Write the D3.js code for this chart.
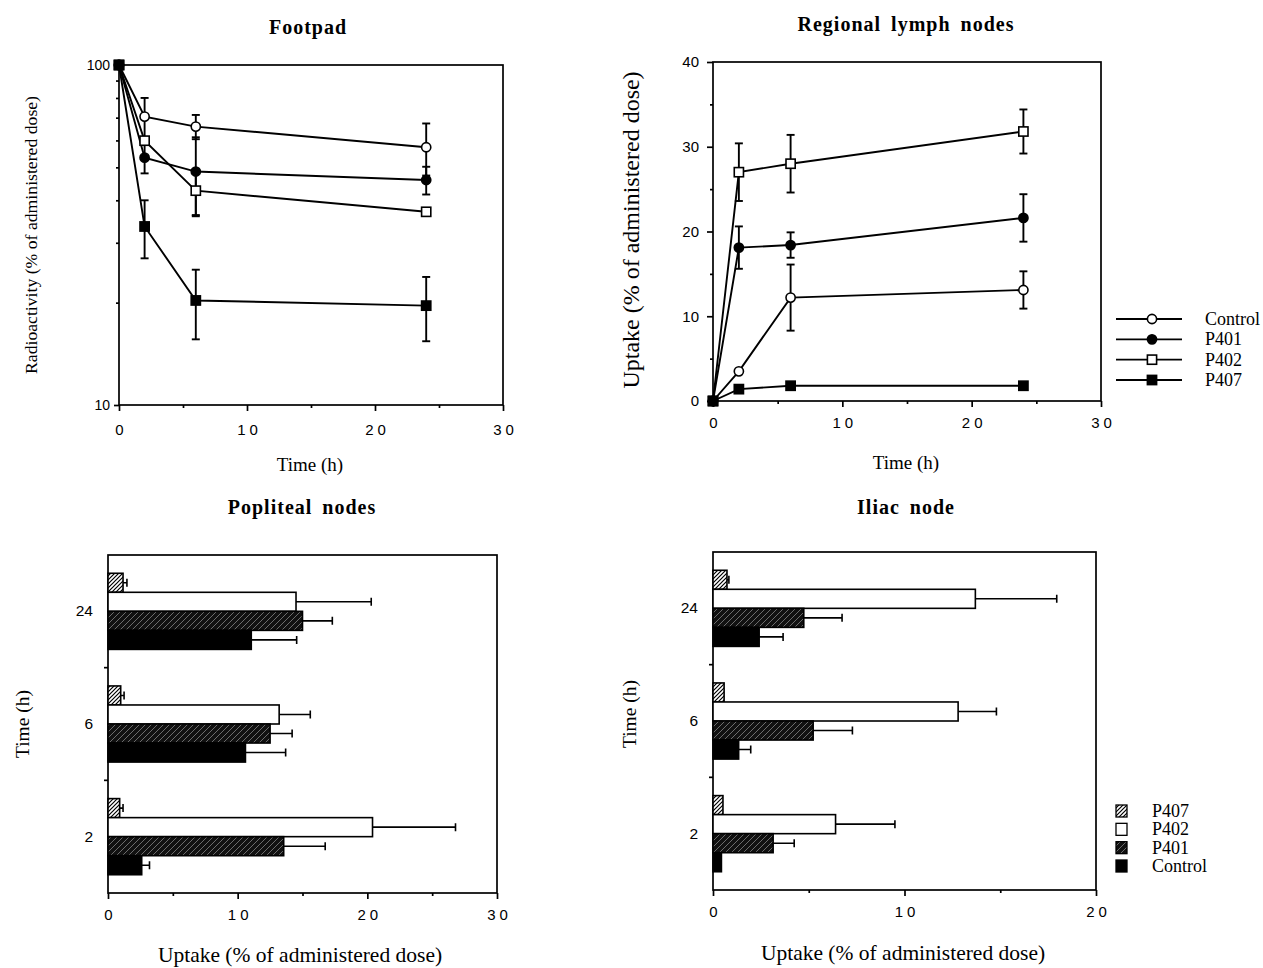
<!DOCTYPE html>
<html>
<head>
<meta charset="utf-8">
<script src="https://cdn.jsdelivr.net/npm/d3@7"></script>
<style>
	body { margin: 0; background: #fff; }
	.serif { font-family: "Liberation Serif", "Times New Roman", serif; }
	.tick text { font-family: "Liberation Sans", Arial, sans-serif; fill: #000; }
</style>
</head>
<body>
<div class="figure"></div>
<script>
	'use strict';

	// time points (h) of the line charts
	var times = [0, 2, 6, 24];
	var lineSeries = ['Control', 'P401', 'P402', 'P407'];

	// Footpad: radioactivity remaining (% of administered dose), log scale
	var footControl = [100, 70.5, 65.9, 57.3];
	var footControlErr = [0, 9.5, 5.4, 10.0];
	var footP401 = [100, 53.4, 48.6, 45.9];
	var footP401Err = [0, 5.4, 12.7, 4.3];
	var footP402 = [100, 59.9, 42.7, 37.0];
	var footP402Err = [0, 0, 6.5, 0];
	var footP407 = [100, 33.5, 20.3, 19.6];
	var footP407Err = [0, 6.5, 4.7, 4.2];

	// Regional lymph nodes: uptake (% of administered dose)
	var regControl = [0, 3.5, 12.2, 13.1];
	var regControlErr = [0, 0, 3.9, 2.2];
	var regP401 = [0, 18.1, 18.4, 21.6];
	var regP401Err = [0, 2.5, 1.5, 2.8];
	var regP402 = [0, 27.0, 28.0, 31.8];
	var regP402Err = [0, 3.4, 3.4, 2.6];
	var regP407 = [0, 1.4, 1.8, 1.8];
	var regP407Err = [0, 0, 0, 0];

	// bar charts: time groups (top to bottom) and series (top to bottom in a group)
	var barTimes = ['24', '6', '2'];
	var barSeries = ['P407', 'P402', 'P401', 'Control'];

	// Popliteal nodes
	var popP407 = [1.16, 0.98, 0.9];
	var popP407Err = [0.3, 0.26, 0.26];
	var popP402 = [14.5, 13.2, 20.4];
	var popP402Err = [5.8, 2.4, 6.4];
	var popP401 = [15.0, 12.5, 13.55];
	var popP401Err = [2.3, 1.7, 3.2];
	var popControl = [11.05, 10.6, 2.6];
	var popControlErr = [3.5, 3.1, 0.6];

	// Iliac node
	var ilP407 = [0.73, 0.58, 0.52];
	var ilP407Err = [0.1, 0, 0];
	var ilP402 = [13.7, 12.8, 6.4];
	var ilP402Err = [4.25, 2.0, 3.1];
	var ilP401 = [4.74, 5.23, 3.14];
	var ilP401Err = [2.0, 2.05, 1.1];
	var ilControl = [2.41, 1.34, 0.44];
	var ilControlErr = [1.25, 0.63, 0];

	var W = 1263, H = 968;
	var svg = d3.select('.figure').append('svg').attr('width', W).attr('height', H);

	var defs = svg.append('defs');
	var light = defs.append('pattern').attr('id', 'hatchLight').attr('patternUnits', 'userSpaceOnUse')
		.attr('width', 4).attr('height', 4);
	light.append('rect').attr('width', 4).attr('height', 4).attr('fill', '#fff');
	light.append('path').attr('d', 'M-1,1 l2,-2 M0,4 l4,-4 M3,5 l2,-2').attr('stroke', '#000').attr('stroke-width', 1.2);
	var dark = defs.append('pattern').attr('id', 'hatchDark').attr('patternUnits', 'userSpaceOnUse')
		.attr('width', 6).attr('height', 6);
	dark.append('rect').attr('width', 6).attr('height', 6).attr('fill', '#111');
	dark.append('path').attr('d', 'M0,6 l6,-6').attr('stroke', '#aaa').attr('stroke-width', 0.6);

	var barFill = { P407: 'url(#hatchLight)', P402: '#fff', P401: 'url(#hatchDark)', Control: '#000' };
	var markerFill = { Control: '#fff', P401: '#000', P402: '#fff', P407: '#000' };
	var markerShape = { Control: 'circle', P401: 'circle', P402: 'square', P407: 'square' };

	function title(x, y, s) {
		svg.append('text').attr('class', 'serif').attr('x', x).attr('y', y).attr('text-anchor', 'middle')
			.attr('font-size', 20).attr('font-weight', 'bold').attr('letter-spacing', 1)
			.attr('word-spacing', 4).text(s);
	}

	function label(x, y, s, size, rotate) {
		var t = svg.append('text').attr('class', 'serif').attr('text-anchor', 'middle').attr('font-size', size).text(s);
		if (rotate) {
			t.attr('transform', 'translate(' + x + ',' + y + ') rotate(-90)');
		} else {
			t.attr('x', x).attr('y', y);
		}
	}

	function frame(x, y) {
		svg.append('rect')
			.attr('x', x.range()[0]).attr('y', Math.min(y.range()[0], y.range()[1]))
			.attr('width', x.range()[1] - x.range()[0])
			.attr('height', Math.abs(y.range()[0] - y.range()[1]))
			.attr('fill', 'none').attr('stroke', '#000').attr('stroke-width', 1.7);
	}

	function styleAxis(g, size) {
		g.select('.domain').remove();
		g.selectAll('.tick line').attr('stroke', '#000').attr('stroke-width', 1.7);
		g.selectAll('.tick text').attr('font-size', size);
	}

	function xAxis(x, y0, major, minor, pad) {
		var g = svg.append('g').attr('transform', 'translate(0,' + y0 + ')')
			.call(d3.axisBottom(x).tickValues(major).tickSize(6).tickPadding(pad).tickFormat(d3.format('d')));
		styleAxis(g, 15);
		g.selectAll('.tick text').attr('letter-spacing', 4).attr('dx', 2);
		var m = svg.append('g').attr('transform', 'translate(0,' + y0 + ')')
			.call(d3.axisBottom(x).tickValues(minor).tickSize(3).tickFormat(''));
		styleAxis(m, 15);
	}

	function lineChart(x, y, series, major, minor, pad) {
		frame(x, y);
		var line = d3.line().x(function(d) { return x(d.t); }).y(function(d) { return y(d.v); });
		series.forEach(function(s) {
			var pts = times.map(function(t, i) { return { t: t, v: s.values[i], e: s.errors[i] }; });
			svg.append('path').datum(pts).attr('d', line)
				.attr('fill', 'none').attr('stroke', '#000').attr('stroke-width', 1.9);
			var bars = pts.filter(function(d) { return d.e > 0; });
			var eg = svg.append('g').attr('stroke', '#000').attr('stroke-width', 1.9);
			eg.selectAll('line.v').data(bars).enter().append('line')
				.attr('x1', function(d) { return x(d.t); }).attr('x2', function(d) { return x(d.t); })
				.attr('y1', function(d) { return y(d.v + d.e); }).attr('y2', function(d) { return y(d.v - d.e); });
			[1, -1].forEach(function(sign) {
				eg.selectAll('line.c' + sign).data(bars).enter().append('line')
					.attr('x1', function(d) { return x(d.t) - 4; }).attr('x2', function(d) { return x(d.t) + 4; })
					.attr('y1', function(d) { return y(d.v + sign * d.e); })
					.attr('y2', function(d) { return y(d.v + sign * d.e); });
			});
			drawMarkers(pts.map(function(d) { return [x(d.t), y(d.v)]; }), s.name);
		});
		xAxis(x, y.range()[0], major, minor, pad);
	}

	function drawMarkers(xy, name) {
		var g = svg.append('g').attr('fill', markerFill[name]).attr('stroke', '#000').attr('stroke-width', 1.6);
		if (markerShape[name] === 'circle') {
			g.selectAll('circle').data(xy).enter().append('circle')
				.attr('cx', function(d) { return d[0]; }).attr('cy', function(d) { return d[1]; }).attr('r', 4.6);
		} else {
			g.selectAll('rect').data(xy).enter().append('rect')
				.attr('x', function(d) { return d[0] - 4.6; }).attr('y', function(d) { return d[1] - 4.6; })
				.attr('width', 9.2).attr('height', 9.2);
		}
	}

	// ---- Footpad ----
	var fx = d3.scaleLinear().domain([0, 30]).range([119, 503]);
	var fy = d3.scaleLog().domain([10, 100]).range([405, 65]);
	title(308, 34, 'Footpad');
	lineChart(fx, fy, [
		{ name: 'Control', values: footControl, errors: footControlErr },
		{ name: 'P401', values: footP401, errors: footP401Err },
		{ name: 'P402', values: footP402, errors: footP402Err },
		{ name: 'P407', values: footP407, errors: footP407Err }
	], [0, 10, 20, 30], [5, 15, 25], 13);
	var fyg = svg.append('g').attr('transform', 'translate(119,0)')
		.call(d3.axisLeft(fy).tickValues([10, 100]).tickSize(5).tickPadding(4).tickFormat(d3.format('d')));
	styleAxis(fyg, 14);
	var fym = svg.append('g').attr('transform', 'translate(119,0)')
		.call(d3.axisLeft(fy).tickValues([20, 30, 40, 50, 60, 70, 80, 90]).tickSize(3).tickFormat(''));
	styleAxis(fym, 14);
	label(310, 471, 'Time (h)', 19);
	label(37, 235, 'Radioactivity (% of administered dose)', 17.7, true);

	// ---- Regional lymph nodes ----
	var rx = d3.scaleLinear().domain([0, 30]).range([713, 1101]);
	var ry = d3.scaleLinear().domain([0, 40]).range([401, 62]);
	title(906, 31, 'Regional lymph nodes');
	lineChart(rx, ry, [
		{ name: 'Control', values: regControl, errors: regControlErr },
		{ name: 'P401', values: regP401, errors: regP401Err },
		{ name: 'P402', values: regP402, errors: regP402Err },
		{ name: 'P407', values: regP407, errors: regP407Err }
	], [0, 10, 20, 30], [5, 15, 25], 10);
	var ryg = svg.append('g').attr('transform', 'translate(713,0)')
		.call(d3.axisLeft(ry).tickValues([0, 10, 20, 30, 40]).tickSize(6).tickPadding(8));
	styleAxis(ryg, 15);
	var rym = svg.append('g').attr('transform', 'translate(713,0)')
		.call(d3.axisLeft(ry).tickValues([5, 15, 25, 35]).tickSize(3).tickFormat(''));
	styleAxis(rym, 15);
	label(906, 469, 'Time (h)', 19);
	label(639, 230, 'Uptake (% of administered dose)', 24, true);

	// line legend
	var ly = d3.scalePoint().domain(lineSeries).range([319, 380]);
	lineSeries.forEach(function(s) {
		svg.append('line').attr('x1', 1116).attr('x2', 1182).attr('y1', ly(s)).attr('y2', ly(s))
			.attr('stroke', '#000').attr('stroke-width', 1.9);
		drawMarkers([[1152, ly(s)]], s);
		svg.append('text').attr('class', 'serif').attr('x', 1205).attr('y', ly(s) + 6)
			.attr('font-size', 18).text(s);
	});

	// ---- bar charts ----
	function barChart(x, yRange, data, major, minor) {
		var y0 = d3.scaleBand().domain(barTimes).range(yRange);
		var y1 = d3.scaleBand().domain(barSeries).range([0, y0.bandwidth()]).paddingOuter(0.96);
		frame(x, d3.scaleLinear().range(yRange));
		barSeries.forEach(function(s) {
			var rows = barTimes.map(function(t, i) { return { t: t, v: data[s].values[i], e: data[s].errors[i] }; });
			var g = svg.append('g');
			g.selectAll('line.e').data(rows.filter(function(d) { return d.e > 0; })).enter().append('path')
				.attr('d', function(d) {
					var cy = y0(d.t) + y1(s) + y1.bandwidth() / 2;
					return 'M' + x(d.v) + ',' + cy + 'H' + x(d.v + d.e) + 'M' + x(d.v + d.e) + ',' + (cy - 4) + 'V' + (cy + 4);
				})
				.attr('stroke', '#000').attr('stroke-width', 1.6).attr('fill', 'none');
			g.selectAll('rect').data(rows).enter().append('rect')
				.attr('x', x(0)).attr('y', function(d) { return y0(d.t) + y1(s); })
				.attr('width', function(d) { return x(d.v) - x(0); })
				.attr('height', y1.bandwidth())
				.attr('fill', barFill[s]).attr('stroke', '#000').attr('stroke-width', 1.6);
		});
		xAxis(x, yRange[1], major, minor, 10);
		// group separator ticks on the y axis
		var sep = svg.append('g').attr('stroke', '#000').attr('stroke-width', 1.7);
		sep.selectAll('line').data(barTimes.slice(1)).enter().append('line')
			.attr('x1', x(0) - 4).attr('x2', x(0))
			.attr('y1', function(d) { return y0(d); }).attr('y2', function(d) { return y0(d); });
		svg.append('g').selectAll('text').data(barTimes).enter().append('text')
			.attr('x', x(0) - 15).attr('y', function(d) { return y0(d) + y0.bandwidth() / 2 + 5; })
			.attr('text-anchor', 'end').attr('font-size', 15.5)
			.attr('font-family', '"Liberation Sans", Arial, sans-serif').text(function(d) { return d; });
	}

	var px = d3.scaleLinear().domain([0, 30]).range([108, 497]);
	title(302, 514, 'Popliteal nodes');
	barChart(px, [555, 893], {
		P407: { values: popP407, errors: popP407Err },
		P402: { values: popP402, errors: popP402Err },
		P401: { values: popP401, errors: popP401Err },
		Control: { values: popControl, errors: popControlErr }
	}, [0, 10, 20, 30], [5, 15, 25]);
	label(300, 962, 'Uptake (% of administered dose)', 21.5);
	label(29, 724, 'Time (h)', 19.5, true);

	var ix = d3.scaleLinear().domain([0, 20]).range([713, 1096]);
	title(906, 514, 'Iliac node');
	barChart(ix, [552, 890], {
		P407: { values: ilP407, errors: ilP407Err },
		P402: { values: ilP402, errors: ilP402Err },
		P401: { values: ilP401, errors: ilP401Err },
		Control: { values: ilControl, errors: ilControlErr }
	}, [0, 10, 20], [5, 15]);
	label(903, 960, 'Uptake (% of administered dose)', 21.5);
	label(636, 714, 'Time (h)', 19.5, true);

	// bar legend
	var by = d3.scalePoint().domain(barSeries).range([811, 866]);
	barSeries.forEach(function(s) {
		svg.append('rect').attr('x', 1116).attr('y', by(s) - 6).attr('width', 11).attr('height', 12)
			.attr('fill', barFill[s]).attr('stroke', '#000').attr('stroke-width', 1.3);
		svg.append('text').attr('class', 'serif').attr('x', 1152).attr('y', by(s) + 6)
			.attr('font-size', 18).text(s);
	});
</script>
</body>
</html>
